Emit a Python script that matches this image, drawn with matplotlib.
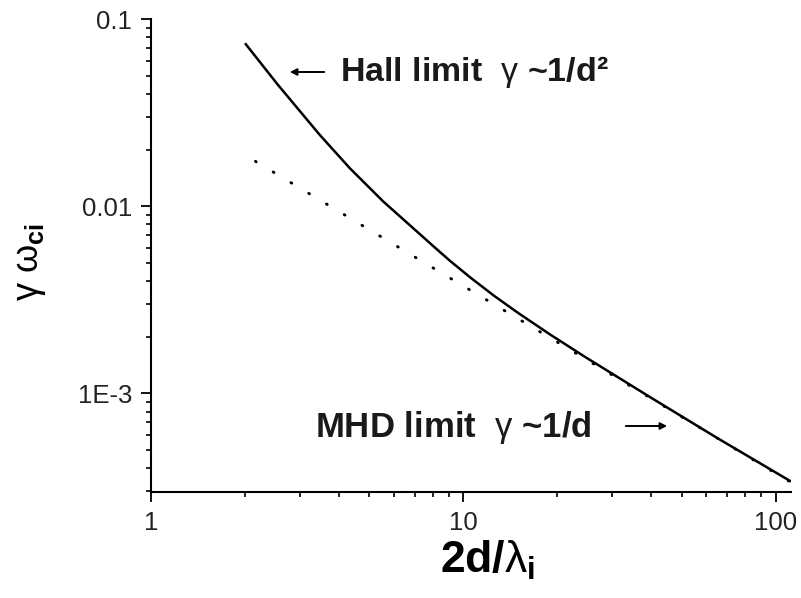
import matplotlib
matplotlib.use("Agg")
import matplotlib.pyplot as plt
from matplotlib.ticker import FixedLocator, FuncFormatter, LogLocator, NullFormatter

plt.rcParams['font.family'] = ['Liberation Sans', 'DejaVu Sans']
plt.rcParams['mathtext.fontset'] = 'custom'
plt.rcParams['mathtext.rm'] = 'Liberation Sans'
plt.rcParams['mathtext.it'] = 'Liberation Sans'
plt.rcParams['mathtext.bf'] = 'Liberation Sans:bold'

# Solid curve (full growth rate)
x_full = [2.00, 2.55, 3.47, 4.33, 5.54, 7.26, 8.22, 9.07, 10.5, 12.5, 14.8,
          19.0, 24.4, 40.0, 65.5, 112.0]
y_full = [0.0745, 0.0446, 0.0241, 0.0160, 0.01062, 0.00710, 0.00590, 0.00511,
          0.00418, 0.00334, 0.00273, 0.00206, 0.001576, 0.000946, 0.000573, 0.000338]

# Dotted curve (MHD limit ~1/d)
x_mhd = [2.16, 5.0, 10.0, 20.0, 50.0, 110.0]
y_mhd = [0.0174, 0.0075, 0.00375, 0.00188, 0.00075, 0.00034]

x_ticks = [1, 10, 100]
x_tick_labels = ['1', '10', '100']
y_ticks = [1e-3, 1e-2, 1e-1]
y_tick_labels = ['1E-3', '0.01', '0.1']

W, H = 801, 598
fig = plt.figure(figsize=(W / 100, H / 100), dpi=100)
ax = fig.add_axes([151 / W, 1 - 492 / H, (791 - 151) / W, (492 - 19.3) / H])

ax.plot(x_mhd, y_mhd, color='black', lw=2.1, linestyle=(0, (0.3, 6.8)),
        dash_capstyle='round')
ax.plot(x_full, y_full, color='black', lw=1.8, solid_capstyle='butt',
        solid_joinstyle='round')

ax.set_xscale('log')
ax.set_yscale('log')
ax.set_xlim(1, 112)
ax.set_ylim(2.97e-4, 0.1)

for s in ['top', 'right']:
    ax.spines[s].set_visible(False)
for s in ['left', 'bottom']:
    ax.spines[s].set_linewidth(1.5)

ax.xaxis.set_major_locator(FixedLocator(x_ticks))
ax.xaxis.set_major_formatter(FuncFormatter(
    lambda v, p: x_tick_labels[min(range(3), key=lambda i: abs(x_ticks[i] - v))]))
ax.yaxis.set_major_locator(FixedLocator(y_ticks))
ax.yaxis.set_major_formatter(FuncFormatter(
    lambda v, p: y_tick_labels[min(range(3), key=lambda i: abs(y_ticks[i] - v))]))
ax.xaxis.set_minor_locator(LogLocator(base=10, subs=range(2, 10)))
ax.yaxis.set_minor_locator(LogLocator(base=10, subs=range(2, 10)))
ax.xaxis.set_minor_formatter(NullFormatter())
ax.yaxis.set_minor_formatter(NullFormatter())

ax.tick_params(which='major', direction='out', length=7.5, width=1.3,
               labelsize=18.5, labelcolor='#222222', pad=6)
ax.tick_params(which='minor', direction='out', length=3.8, width=1.2)

fig.text(487 / W, 1 - 560 / H, r'$\mathbf{2d/}\lambda_{\mathbf{i}}$', fontsize=32,
         ha='center', va='center')
fig.text(30 / W, 1 - 262 / H, r'$\gamma\ \omega_{\mathbf{ci}}$', fontsize=26,
         ha='center', va='center', rotation=90)

fig.text(340 / W, 1 - 72 / H, r'Hall limit  $\gamma$ ~1/d²', fontsize=24.5,
         fontweight='bold', ha='left', va='center', color='#1a1a1a')
fig.text(315 / W, 1 - 428 / H, r'MHD limit  $\gamma$ ~1/d', fontsize=25,
         fontweight='bold', ha='left', va='center', color='#1a1a1a')

fig.add_artist(matplotlib.patches.FancyArrowPatch(
    (327 / W, 1 - 72 / H), (287 / W, 1 - 72 / H), transform=fig.transFigure,
    arrowstyle='-|>,head_length=4,head_width=2', lw=1.4, color='black'))
fig.add_artist(matplotlib.patches.FancyArrowPatch(
    (623 / W, 1 - 426 / H), (670 / W, 1 - 426 / H), transform=fig.transFigure,
    arrowstyle='-|>,head_length=4,head_width=2', lw=1.4, color='black'))

fig.savefig('out.png', dpi=100)
